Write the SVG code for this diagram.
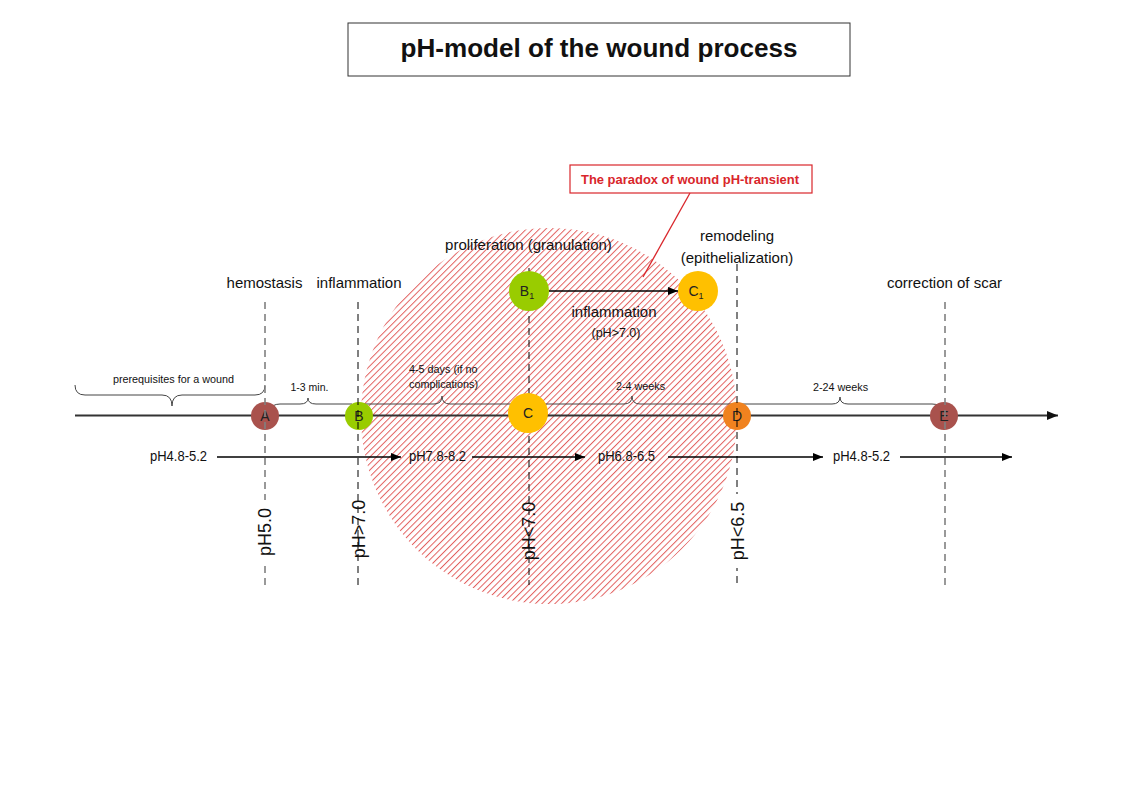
<svg xmlns="http://www.w3.org/2000/svg" width="1123" height="794" viewBox="0 0 1123 794">
<style>
text{font-family:"Liberation Sans",Arial,sans-serif;fill:#111}
.lbl{font-size:15px;text-anchor:middle}
.sm{font-size:10.8px}
.ph{font-size:14px}
.rot{font-size:18px;text-anchor:middle}
.nd{font-size:14px;text-anchor:middle;fill:#222}
.brace{fill:none;stroke:#444;stroke-width:1}
.arr{stroke:#000;stroke-width:1.3;fill:none;marker-end:url(#ah)}
.gd{stroke:#000;stroke-width:1;stroke-dasharray:7 5;fill:none}
.gg{stroke:#808080;stroke-width:1.6;stroke-dasharray:7 5;fill:none}
</style>
<defs>
<pattern id="hatch" width="10" height="4.6" patternUnits="userSpaceOnUse" patternTransform="rotate(-45)">
<rect x="0" y="0" width="10" height="1" fill="#e2605f"/>
</pattern>
<marker id="ah" viewBox="0 0 10 8" refX="10" refY="4" markerWidth="10" markerHeight="8" markerUnits="userSpaceOnUse" orient="auto">
<path d="M0,0 L10,4 L0,8 z" fill="#000"/>
</marker>
<marker id="ahm" viewBox="0 0 10 8" refX="10" refY="4" markerWidth="11" markerHeight="9" markerUnits="userSpaceOnUse" orient="auto">
<path d="M0,0 L10,4 L0,8 z" fill="#111"/>
</marker>
</defs>
<rect width="1123" height="794" fill="#fff"/>

<g id="hatched-zone">
<circle cx="549" cy="416" r="188" fill="url(#hatch)"/>
</g>

<g id="title">
<rect x="348" y="23" width="502" height="53" fill="#fff" stroke="#333" stroke-width="1"/>
<text x="599" y="57" style="font-size:26px;font-weight:bold;text-anchor:middle" textLength="397" lengthAdjust="spacingAndGlyphs">pH-model of the wound process</text>
</g>

<g id="callout">
<rect x="570" y="165" width="242" height="28" fill="#fff" stroke="#d9262b" stroke-width="1.2"/>
<text x="690" y="184" style="font-size:13px;font-weight:bold;text-anchor:middle;fill:#d9262b" textLength="218" lengthAdjust="spacingAndGlyphs">The paradox of wound pH-transient</text>
<line x1="690" y1="193" x2="643" y2="277" stroke="#d9262b" stroke-width="1.3"/>
</g>

<g id="stage-labels">
<text class="lbl" x="264.5" y="288">hemostasis</text>
<text class="lbl" x="359" y="288">inflammation</text>
<text class="lbl" x="528.5" y="250">proliferation (granulation)</text>
<text class="lbl" x="737" y="241">remodeling</text>
<text class="lbl" x="737" y="263">(epithelialization)</text>
<text class="lbl" x="944.5" y="288">correction of scar</text>
<text class="lbl" x="614" y="317">inflammation</text>
<text x="616" y="337" style="font-size:12.5px;text-anchor:middle">(pH&gt;7.0)</text>
</g>

<g id="durations">
<path class="brace" d="M75,385 Q75,395 85,395 L162,395 Q172,395 172,406 Q172,395 182,395 L255,395 Q265,395 265,385"/>
<text class="sm" x="173.5" y="383" text-anchor="middle">prerequisites for a wound</text>
<path class="brace" d="M268,411 Q272,404 280,404 L300,404 Q308,404 308,398 Q308,404 316,404 L352,404"/>
<text class="sm" x="309.5" y="391" text-anchor="middle" style="font-size:10.5px">1-3 min.</text>
<path class="brace" d="M362,404 L434,404 Q442,404 442,396 Q442,404 450,404 L520,404"/>
<text class="sm" x="409" y="373">4-5 days (if no</text>
<text class="sm" x="409" y="388">complications)</text>
<path class="brace" d="M535,404 L624,404 Q632,404 632,396 Q632,404 640,404 L733,404"/>
<text class="sm" x="640.5" y="390" text-anchor="middle">2-4 weeks</text>
<path class="brace" d="M741,404 L832,404 Q840,404 840,397 Q840,404 848,404 L932,404 Q940,404 944,410"/>
<text class="sm" x="840.5" y="391" text-anchor="middle">2-24 weeks</text>
</g>

<g id="connectors">
<line x1="75" y1="415.5" x2="1058" y2="415.5" stroke="#333" stroke-width="2" marker-end="url(#ahm)"/>
<line class="arr" x1="549" y1="291" x2="678" y2="291" style="stroke-width:1.5"/>
<line class="arr" x1="217" y1="457" x2="401" y2="457"/>
<line class="arr" x1="472" y1="457" x2="585" y2="457"/>
<line class="arr" x1="668" y1="457" x2="823" y2="457"/>
<line class="arr" x1="900" y1="457" x2="1012" y2="457"/>
</g>

<g id="ph-ranges">
<text class="ph" x="150" y="461" textLength="57" lengthAdjust="spacingAndGlyphs">pH4.8-5.2</text>
<text class="ph" x="409" y="461" textLength="57" lengthAdjust="spacingAndGlyphs">pH7.8-8.2</text>
<text class="ph" x="598" y="461" textLength="57" lengthAdjust="spacingAndGlyphs">pH6.8-6.5</text>
<text class="ph" x="833" y="461" textLength="57" lengthAdjust="spacingAndGlyphs">pH4.8-5.2</text>
</g>

<g id="node-A"><circle cx="265" cy="416" r="14" fill="#a9524d"/><text class="nd" x="265" y="421">A</text></g>
<g id="node-B"><circle cx="359" cy="416" r="14" fill="#99cc00"/><text class="nd" x="359" y="421">B</text></g>
<g id="node-D"><circle cx="737" cy="416" r="14" fill="#f0821f"/><text class="nd" x="737" y="421">D</text></g>
<g id="node-E"><circle cx="944" cy="416" r="14" fill="#a9524d"/><text class="nd" x="944" y="421">E</text></g>

<g id="guides">
<line class="gg" x1="265" y1="302" x2="265" y2="585"/>
<line class="gd" x1="358" y1="302" x2="358" y2="585"/>
<line class="gd" x1="529" y1="268" x2="529" y2="585"/>
<line class="gd" x1="737" y1="264" x2="737" y2="585"/>
<line class="gg" x1="945" y1="302" x2="945" y2="585"/>
<rect x="258" y="500" width="16" height="64" fill="#fff"/>
<rect x="729" y="494" width="18" height="74" fill="#fff"/>
</g>

<g id="node-C"><circle cx="528" cy="413" r="20" fill="#ffc000"/><text class="nd" x="528" y="418">C</text></g>
<g id="node-B1"><circle cx="529" cy="291" r="20" fill="#99cc00"/><text class="nd" x="527" y="296">B<tspan style="font-size:9px" dy="3">1</tspan></text></g>
<g id="node-C1"><circle cx="698" cy="291" r="20" fill="#ffc000"/><text class="nd" x="696" y="296">C<tspan style="font-size:9px" dy="3">1</tspan></text></g>

<g id="ph-thresholds">
<text class="rot" transform="translate(271,532) rotate(-90)">pH5.0</text>
<text class="rot" transform="translate(365,529) rotate(-90)">pH&gt;7.0</text>
<text class="rot" transform="translate(535,531) rotate(-90)">pH&lt;7.0</text>
<text class="rot" transform="translate(744,531) rotate(-90)">pH&lt;6.5</text>
</g>
</svg>
